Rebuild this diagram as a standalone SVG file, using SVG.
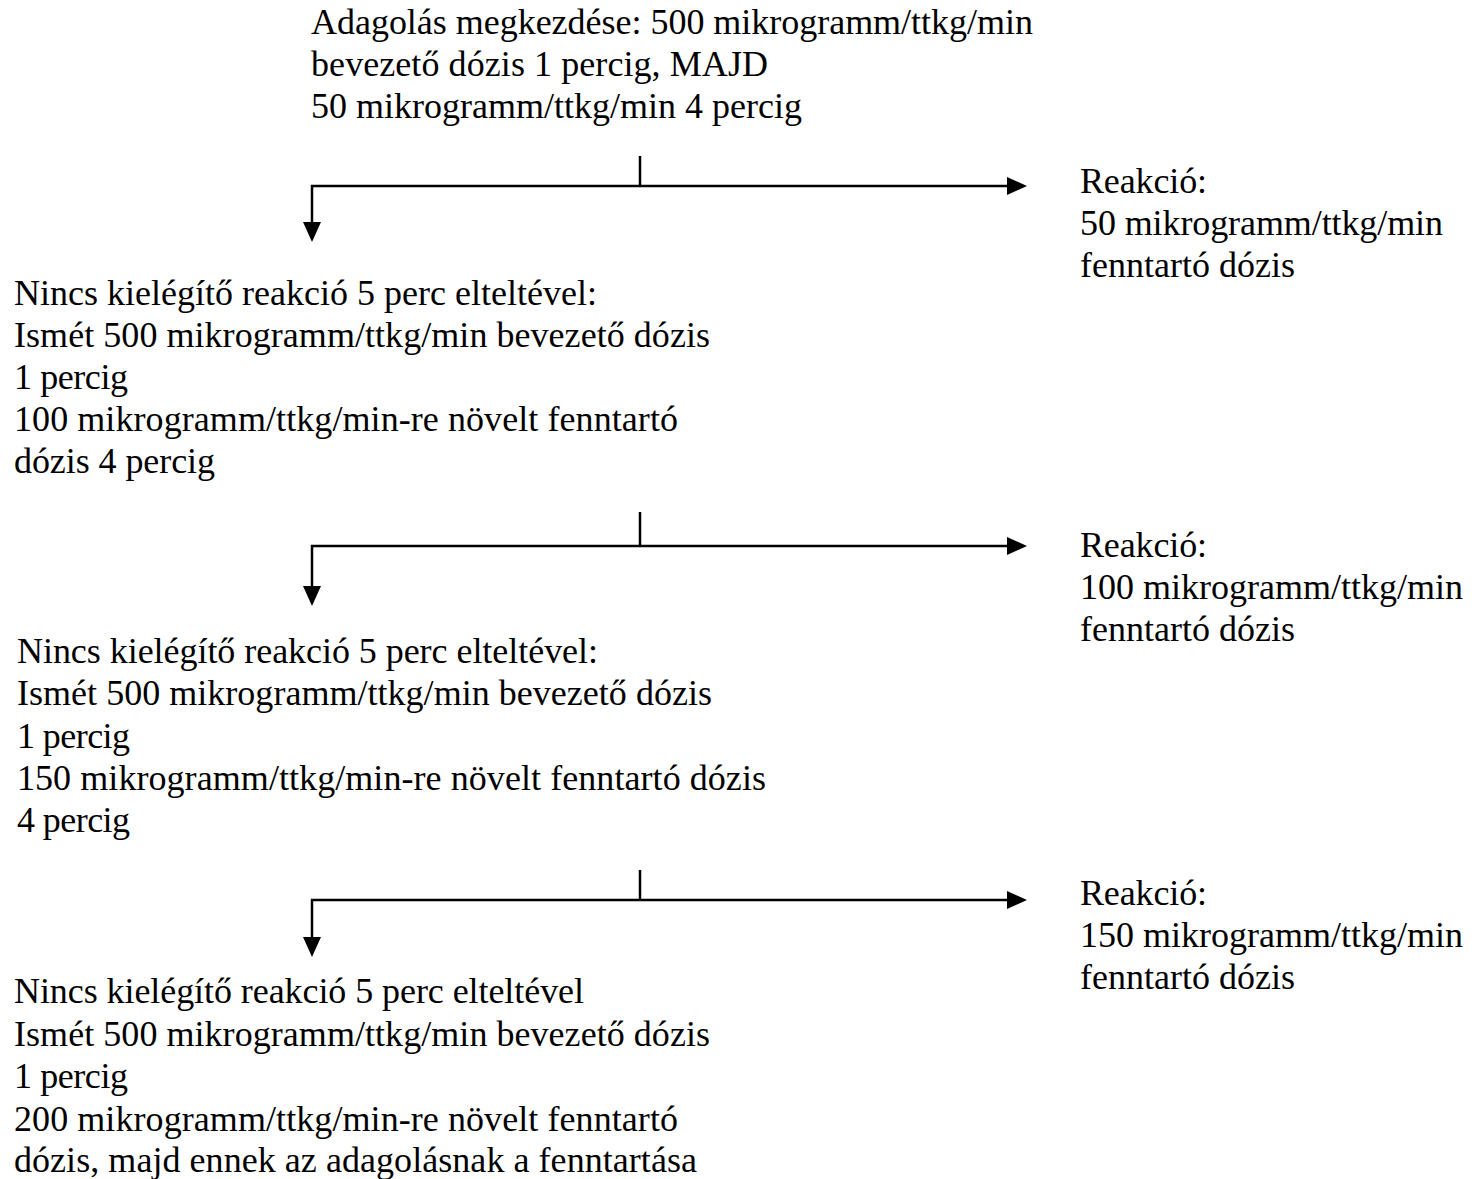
<svg xmlns="http://www.w3.org/2000/svg" width="1472" height="1179" viewBox="0 0 1472 1179">
<style>
  text { font-family: "Liberation Serif", "Times New Roman", serif; font-size: 36px; fill: #000; }
  .ln { stroke: #000; stroke-width: 2.5; fill: none; }
</style>
<defs>
  <marker id="ah" markerUnits="userSpaceOnUse" markerWidth="20" markerHeight="18" viewBox="0 0 20 18" refX="0" refY="9" orient="auto">
    <path d="M0,0 L20,9 L0,18 z" fill="#000"/>
  </marker>
</defs>
<rect width="1472" height="1179" fill="#fff"/>

<g id="start">
  <text x="311" y="34" textLength="722" lengthAdjust="spacing">Adagolás megkezdése: 500 mikrogramm/ttkg/min</text>
  <text x="311" y="76" textLength="457" lengthAdjust="spacing">bevezető dózis 1 percig, MAJD</text>
  <text x="311" y="118" textLength="491" lengthAdjust="spacing">50 mikrogramm/ttkg/min 4 percig</text>
</g>

<g id="step2">
  <text x="14" y="305" textLength="583" lengthAdjust="spacing">Nincs kielégítő reakció 5 perc elteltével:</text>
  <text x="14" y="347" textLength="696" lengthAdjust="spacing">Ismét 500 mikrogramm/ttkg/min bevezető dózis</text>
  <text x="14" y="389" textLength="114" lengthAdjust="spacing">1 percig</text>
  <text x="14" y="431" textLength="664" lengthAdjust="spacing">100 mikrogramm/ttkg/min-re növelt fenntartó</text>
  <text x="14" y="473" textLength="201" lengthAdjust="spacing">dózis 4 percig</text>
</g>

<g id="reaction1">
  <text x="1080" y="193" textLength="127" lengthAdjust="spacing">Reakció:</text>
  <text x="1080" y="235" textLength="363" lengthAdjust="spacing">50 mikrogramm/ttkg/min</text>
  <text x="1080" y="277" textLength="215" lengthAdjust="spacing">fenntartó dózis</text>
</g>

<g id="step3">
  <text x="17" y="663" textLength="581" lengthAdjust="spacing">Nincs kielégítő reakció 5 perc elteltével:</text>
  <text x="17" y="705" textLength="695" lengthAdjust="spacing">Ismét 500 mikrogramm/ttkg/min bevezető dózis</text>
  <text x="17" y="748" textLength="113" lengthAdjust="spacing">1 percig</text>
  <text x="17" y="790" textLength="749" lengthAdjust="spacing">150 mikrogramm/ttkg/min-re növelt fenntartó dózis</text>
  <text x="17" y="832" textLength="113" lengthAdjust="spacing">4 percig</text>
</g>

<g id="reaction2">
  <text x="1080" y="557" textLength="127" lengthAdjust="spacing">Reakció:</text>
  <text x="1080" y="599" textLength="383" lengthAdjust="spacing">100 mikrogramm/ttkg/min</text>
  <text x="1080" y="641" textLength="215" lengthAdjust="spacing">fenntartó dózis</text>
</g>

<g id="step4">
  <text x="14" y="1003" textLength="570" lengthAdjust="spacing">Nincs kielégítő reakció 5 perc elteltével</text>
  <text x="14" y="1046" textLength="696" lengthAdjust="spacing">Ismét 500 mikrogramm/ttkg/min bevezető dózis</text>
  <text x="14" y="1088" textLength="114" lengthAdjust="spacing">1 percig</text>
  <text x="14" y="1131" textLength="664" lengthAdjust="spacing">200 mikrogramm/ttkg/min-re növelt fenntartó</text>
  <text x="14" y="1172" textLength="683" lengthAdjust="spacing">dózis, majd ennek az adagolásnak a fenntartása</text>
</g>

<g id="reaction3">
  <text x="1080" y="905" textLength="127" lengthAdjust="spacing">Reakció:</text>
  <text x="1080" y="947" textLength="383" lengthAdjust="spacing">150 mikrogramm/ttkg/min</text>
  <text x="1080" y="989" textLength="215" lengthAdjust="spacing">fenntartó dózis</text>
</g>

<g id="connectors">
  <line class="ln" x1="640" y1="156" x2="640" y2="186"/>
  <line class="ln" x1="311" y1="186" x2="1007" y2="186" marker-end="url(#ah)"/>
  <line class="ln" x1="312" y1="185" x2="312" y2="222" marker-end="url(#ah)"/>

  <line class="ln" x1="640" y1="512" x2="640" y2="546"/>
  <line class="ln" x1="311" y1="546" x2="1007" y2="546" marker-end="url(#ah)"/>
  <line class="ln" x1="312" y1="545" x2="312" y2="586" marker-end="url(#ah)"/>

  <line class="ln" x1="640" y1="870" x2="640" y2="900"/>
  <line class="ln" x1="311" y1="900" x2="1007" y2="900" marker-end="url(#ah)"/>
  <line class="ln" x1="312" y1="899" x2="312" y2="937" marker-end="url(#ah)"/>
</g>
</svg>
